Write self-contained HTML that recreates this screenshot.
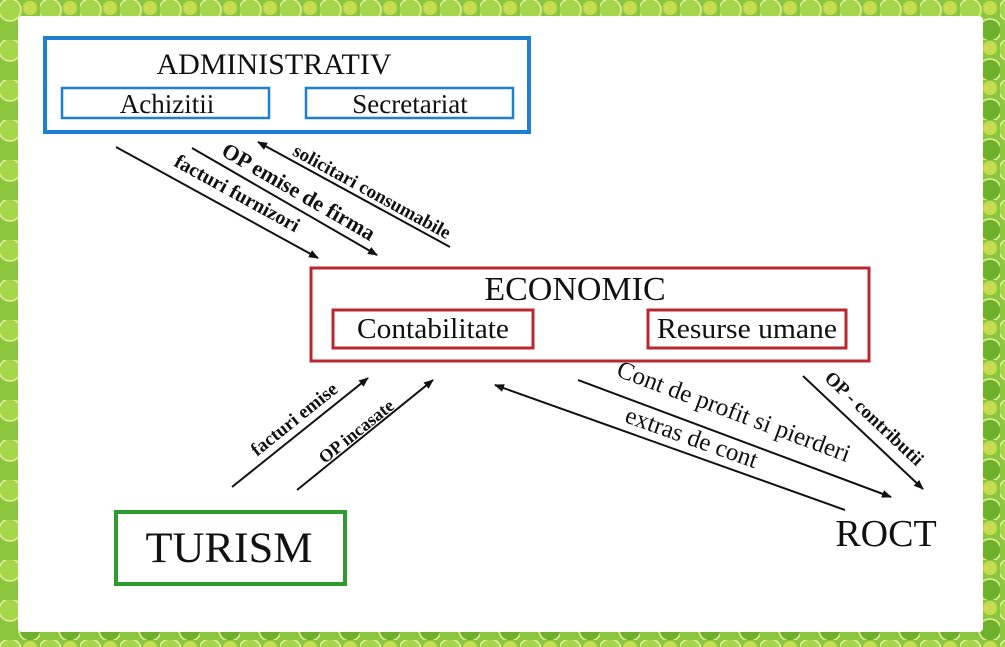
<!DOCTYPE html>
<html><head><meta charset="utf-8"><style>
html,body{margin:0;padding:0;width:1005px;height:647px;overflow:hidden;background:#fff}
svg{display:block}
text{font-family:"Liberation Serif",serif;fill:#111}
</style></head><body>
<svg width="1005" height="647" viewBox="0 0 1005 647">
<defs>
<pattern id="lv" width="40" height="40" patternUnits="userSpaceOnUse">
<rect width="40" height="40" fill="#8cc63f"/>
<circle cx="10" cy="10" r="11" fill="#a6d64a" stroke="#e6f0a0" stroke-width="1.5"/>
<circle cx="30" cy="30" r="11" fill="#6fb22e" stroke="#e6f0a0" stroke-width="1.5"/>
<circle cx="30" cy="8" r="7" fill="#c8dc50"/>
</pattern>
<marker id="ah" markerWidth="10" markerHeight="8" refX="9" refY="4" orient="auto" markerUnits="userSpaceOnUse">
<path d="M0,0 L10,4 L0,8 z" fill="#111"/></marker>
</defs>
<rect width="1005" height="647" fill="url(#lv)"/>
<rect x="18" y="16" width="965" height="616" fill="#fff" rx="4"/>

<rect x="45" y="38" width="484" height="94" fill="none" stroke="#1f7fd0" stroke-width="4"/>
<text x="274" y="74" font-size="30" text-anchor="middle">ADMINISTRATIV</text>
<rect x="62" y="88" width="207" height="30" fill="none" stroke="#1f7fd0" stroke-width="2.5"/>
<text x="167" y="113" font-size="27" text-anchor="middle">Achizitii</text>
<rect x="306" y="88" width="207" height="30" fill="none" stroke="#1f7fd0" stroke-width="2.5"/>
<text x="410" y="113" font-size="27" text-anchor="middle">Secretariat</text>

<rect x="311" y="268" width="558" height="93" fill="none" stroke="#b8282e" stroke-width="3"/>
<text x="575" y="300" font-size="34" text-anchor="middle">ECONOMIC</text>
<rect x="333" y="310" width="200" height="38" fill="none" stroke="#b8282e" stroke-width="3"/>
<text x="433" y="338" font-size="28" text-anchor="middle" textLength="152" lengthAdjust="spacingAndGlyphs">Contabilitate</text>
<rect x="648" y="310" width="198" height="38" fill="none" stroke="#b8282e" stroke-width="3"/>
<text x="747" y="338" font-size="28" text-anchor="middle" textLength="180" lengthAdjust="spacingAndGlyphs">Resurse umane</text>

<rect x="116" y="512" width="229" height="72" fill="none" stroke="#2f9a2f" stroke-width="4"/>
<text x="229" y="562" font-size="43" text-anchor="middle" textLength="167" lengthAdjust="spacingAndGlyphs">TURISM</text>

<text x="886" y="546" font-size="38" text-anchor="middle">ROCT</text>

<g stroke="#111" stroke-width="2" fill="none">
<line x1="116" y1="147" x2="318" y2="258" marker-end="url(#ah)"/>
<line x1="192" y1="148" x2="377" y2="255" marker-end="url(#ah)"/>
<line x1="450" y1="247" x2="258" y2="142" marker-end="url(#ah)"/>
<line x1="232" y1="487" x2="368" y2="378" marker-end="url(#ah)"/>
<line x1="297" y1="490" x2="433" y2="380" marker-end="url(#ah)"/>
<line x1="845" y1="510" x2="495" y2="385" marker-end="url(#ah)"/>
<line x1="578" y1="380" x2="891" y2="497" marker-end="url(#ah)"/>
<line x1="803" y1="376" x2="923" y2="489" marker-end="url(#ah)"/>
</g>

<g font-weight="bold" text-anchor="middle">
<text transform="translate(234,199) rotate(28.8)" font-size="20">facturi furnizori</text>
<text transform="translate(295,198) rotate(30)" font-size="22">OP emise de firma</text>
<text transform="translate(369,197) rotate(28.7)" font-size="19">solicitari consumabile</text>
<text transform="translate(298,424) rotate(-38.7)" font-size="19">facturi emise</text>
<text transform="translate(360,436) rotate(-38.7)" font-size="18">OP incasate</text>
<text transform="translate(870,423) rotate(43.3)" font-size="19">OP - contributii</text>
</g>
<g font-size="25" text-anchor="middle">
<text transform="translate(731,419) rotate(20.5)">Cont de profit si pierderi</text>
<text transform="translate(689,445) rotate(19.6)">extras de cont</text>
</g>
</svg>
</body></html>
